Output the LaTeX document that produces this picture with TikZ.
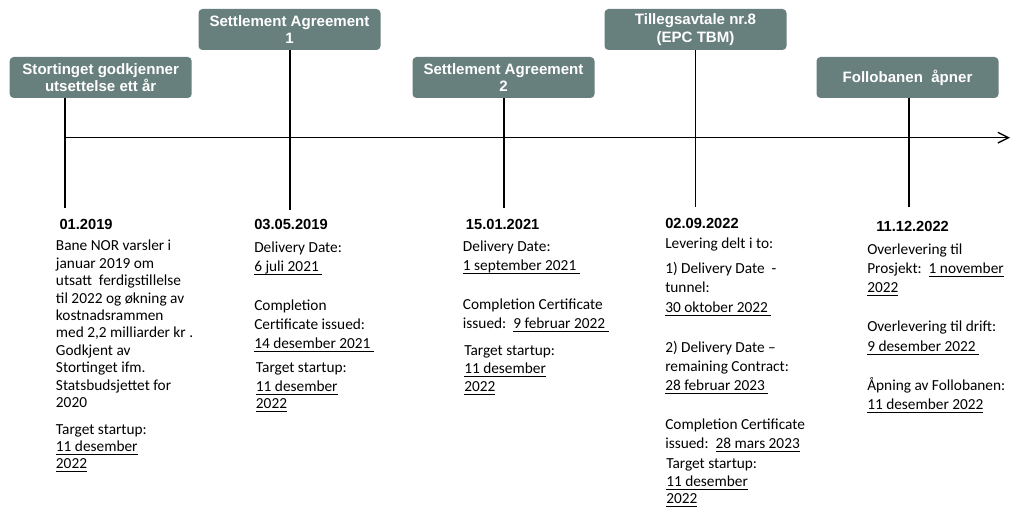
\documentclass[tikz,border=0pt]{standalone}
\usepackage{fontspec}
\setmainfont{Carlito}
\newfontfamily\headfont{Liberation Sans}
\usetikzlibrary{arrows.meta}

\definecolor{boxc}{RGB}{104,128,125}

% underline drawn close to the baseline, as Calibri does
\newsavebox\ulinebox
\newcommand\undl[1]{\sbox\ulinebox{#1}\rlap{\rule[-2pt]{\wd\ulinebox}{0.75pt}}\usebox\ulinebox}

\tikzset{
  milestone/.style={draw=none, fill=boxc, rounded corners=3pt, text=white,
    minimum width=136.5pt, minimum height=30.75pt, inner sep=0pt, align=center,
    font=\headfont\bfseries\fontsize{11.3}{13}\selectfont},
  stem/.style={line width=1pt, black},
  hd/.style={anchor=base west, inner sep=0pt, font=\headfont\bfseries\fontsize{11}{13}\selectfont},
  bd/.style={anchor=base west, inner sep=0pt, font=\fontsize{11.5}{13}\selectfont}
}

\begin{document}
\begin{tikzpicture}[x=0.75pt, y=-0.75pt]
\useasboundingbox (0,0) rectangle (1011,509);

% milestone boxes
\node[milestone] (b1) at (100.7,77.5) {Stortinget godkjenner\\utsettelse ett år};
\node[milestone] (b2) at (289.5,29.5) {Settlement Agreement\\1};
\node[milestone] (b3) at (503.5,77.5) {Settlement Agreement\\2};
\node[milestone] (b4) at (695.5,29.5) {Tillegsavtale nr.8\\(EPC TBM)};
\node[milestone] (b5) at (907.5,77.5) {Follobanen\ \ åpner};

% stem ends
\coordinate (e1) at (65,208);
\coordinate (e2) at (290,210);
\coordinate (e3) at (504,208);
\coordinate (e4) at (695.7,207);
\coordinate (e5) at (909,207);

% time axis
\coordinate (ax0) at (65,137.7);
\coordinate (ax1) at (1010,137.7);
\draw[stem, -{Straight Barb[length=8pt,width=8pt]}] (ax0) -- (ax1);

% stems
\foreach \k in {1,...,5}
  \draw[stem] (e\k |- b\k.south) -- (e\k);

% column 1
\node[hd] (h1) at (59.3,229.5) {01.2019};
\foreach \yy/\tx [count=\i] in {
  251/{Bane NOR varsler i},
  268.4/{januar 2019 om},
  285.8/{utsatt\ \ ferdigstillelse},
  303.2/{til 2022 og økning av},
  320.6/{kostnadsrammen},
  338/{med 2,2 milliarder kr .},
  355.4/{Godkjent av},
  372.8/{Stortinget ifm.},
  390.2/{Statsbudsjettet for},
  407.6/{2020},
  435/{Target startup:},
  452/{\undl{11 desember}},
  469/{\undl{2022}}}
  \node[bd] (c1l\i) at (55.7,\yy) {\tx};

% column 2
\node[hd] (h2) at (254,229.5) {03.05.2019};
\foreach \yy/\tx [count=\i] in {
  253/{Delivery Date:},
  272/{\undl{6 juli 2021\ }},
  311/{Completion},
  330/{Certificate issued:},
  349/{\undl{14 desember 2021\ }}}
  \node[bd] (c2l\i) at (254,\yy) {\tx};
\foreach \yy/\tx [count=\i] in {
  373/{Target startup:},
  392/{\undl{11 desember}},
  409/{\undl{2022}}}
  \node[bd] (c2t\i) at (255.7,\yy) {\tx};

% column 3
\node[hd] (h3) at (465.7,229.5) {15.01.2021};
\foreach \yy/\tx [count=\i] in {
  252/{Delivery Date:},
  271/{\undl{1 september 2021\ }},
  310/{Completion Certificate},
  329/{issued:\ \ \undl{9 februar 2022\ }}}
  \node[bd] (c3l\i) at (462.7,\yy) {\tx};
\foreach \yy/\tx [count=\i] in {
  356/{Target startup:},
  374/{\undl{11 desember}},
  392/{\undl{2022}}}
  \node[bd] (c3t\i) at (464,\yy) {\tx};

% column 4
\node[hd] (h4) at (665,229) {02.09.2022};
\foreach \yy/\tx [count=\i] in {
  249/{Levering delt i to:},
  274/{1) Delivery Date\ \ -},
  293/{tunnel:},
  313/{\undl{30 oktober 2022\ }},
  353/{2) Delivery Date –},
  372/{remaining Contract:},
  391/{\undl{28 februar 2023\ }},
  430/{Completion Certificate},
  449/{issued:\ \ \undl{28 mars 2023}}}
  \node[bd] (c4l\i) at (665,\yy) {\tx};
\foreach \yy/\tx [count=\i] in {
  469/{Target startup:},
  487/{\undl{11 desember}},
  504/{\undl{2022}}}
  \node[bd] (c4t\i) at (666,\yy) {\tx};

% column 5
\node[hd] (h5) at (876,232) {11.12.2022};
\foreach \yy/\tx [count=\i] in {
  255/{Overlevering til},
  274/{Prosjekt:\ \ \undl{1 november}},
  293/{\undl{2022}},
  332/{Overlevering til drift:},
  352/{\undl{9 desember 2022\ }},
  391/{Åpning av Follobanen:},
  410/{\undl{11 desember 2022}}}
  \node[bd] (c5l\i) at (867,\yy) {\tx};
\end{tikzpicture}
\end{document}
